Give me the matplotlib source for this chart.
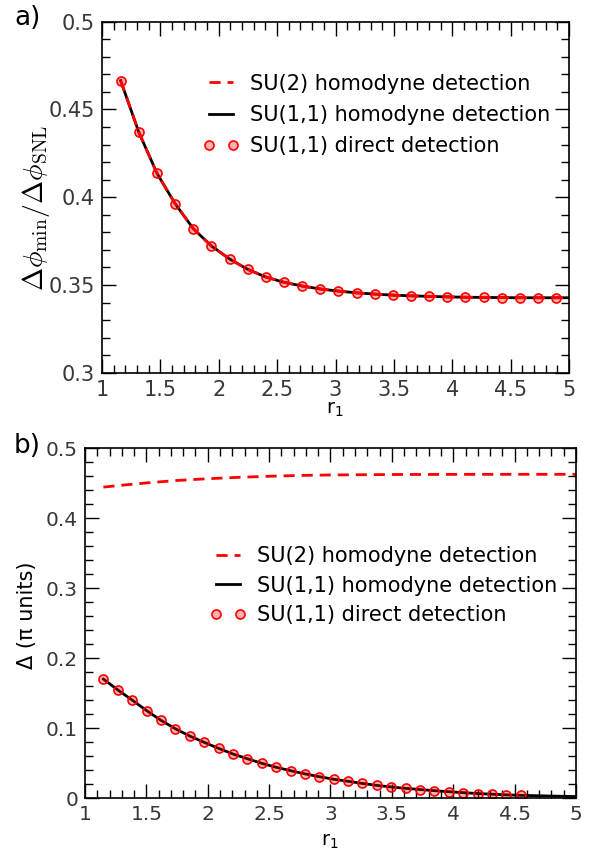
import numpy as np
import matplotlib.pyplot as plt
from matplotlib.ticker import MultipleLocator

plt.rcParams['mathtext.fontset'] = 'cm'
plt.rcParams['font.family'] = 'DejaVu Sans'

# ---- panel a) data ----
r_a = np.linspace(1.16, 4.89, 25)
phi_direct = [0.4664, 0.4370, 0.4136, 0.3963, 0.3821, 0.3722, 0.3648, 0.3589,
              0.3545, 0.3515, 0.3494, 0.3477, 0.3465, 0.3455, 0.3448, 0.3442,
              0.3438, 0.3435, 0.3432, 0.3430, 0.3429, 0.3428, 0.3427, 0.3427,
              0.3427]
r_a_line = np.append(r_a, 5.0)
phi_line = phi_direct + [0.3427]

# ---- panel b) data ----
r_b = np.linspace(1.15, 4.55, 30)
delta_direct = [0.170, 0.1545, 0.140, 0.125, 0.111, 0.099, 0.0886, 0.0796,
                0.0710, 0.0629, 0.0562, 0.0496, 0.0439, 0.0391, 0.0345, 0.0305,
                0.0268, 0.0239, 0.0208, 0.0180, 0.0158, 0.0138, 0.0121, 0.0105,
                0.0090, 0.0076, 0.0064, 0.0054, 0.0045, 0.0038]
r_b_line = np.append(r_b, [4.77, 5.0])
delta_su11 = delta_direct + [0.0029, 0.0021]
r_su2 = [1.15, 1.3, 1.5, 1.75, 2.0, 2.25, 2.5, 2.75, 3.0, 3.5, 4.0, 4.5, 5.0]
delta_su2 = [0.4445, 0.4472, 0.4505, 0.4540, 0.4565, 0.4585, 0.4600, 0.4612,
             0.4619, 0.4625, 0.4627, 0.4628, 0.4628]

labels = ['SU(2) homodyne detection', 'SU(1,1) homodyne detection',
          'SU(1,1) direct detection']

W, H = 595, 852
fig = plt.figure(figsize=(W / 100, H / 100), dpi=100)
ax1 = fig.add_axes([102 / W, 1 - 372.7 / H, 467 / W, 351 / H])
ax2 = fig.add_axes([85 / W, 1 - 798 / H, 491 / W, 349.7 / H])

tick_col = '#383838'


def style(ax, ymaj, ymin, lsize):
    ax.set_xlim(1, 5)
    ax.xaxis.set_major_locator(MultipleLocator(0.5))
    ax.xaxis.set_minor_locator(MultipleLocator(0.1))
    ax.yaxis.set_major_locator(MultipleLocator(ymaj))
    ax.yaxis.set_minor_locator(MultipleLocator(ymin))
    ax.tick_params(which='both', direction='in', top=True, right=True,
                   labelsize=lsize, labelcolor=tick_col, width=1, pad=5)
    ax.tick_params(which='major', length=10)
    ax.tick_params(which='minor', length=6)
    ax.xaxis.set_major_formatter(plt.FuncFormatter(lambda v, p: f'{v:g}'))
    ax.yaxis.set_major_formatter(plt.FuncFormatter(lambda v, p: f'{v:g}'))
    for s in ax.spines.values():
        s.set_linewidth(1.2)


mk = dict(marker='o', ls='none', ms=6.5, mfc=(1, 0, 0, 0.3), mec='red', mew=1.2)

# panel a
l1, = ax1.plot(r_a_line, phi_line, 'k-', lw=2)
l2, = ax1.plot(r_a_line, phi_line, '--', color='red', lw=2, dashes=(4, 2.5))
l3, = ax1.plot(r_a, phi_direct, **mk)
ax1.set_ylim(0.3, 0.5)
style(ax1, 0.05, 0.01, 15)
ax1.set_xlabel(r'r$_\mathregular{1}$', fontsize=14, labelpad=0)
ax1.set_ylabel(r'$\Delta\phi_{\rm min}/\Delta\phi_{\rm SNL}$', fontsize=20)
ax1.yaxis.set_label_coords(-0.107, 0.47)
ax1.legend([l2, l1, l3], labels, loc='upper left', bbox_to_anchor=(0.216, 0.852),
           frameon=False, fontsize=15, handlelength=1.73, numpoints=2,
           borderpad=0, borderaxespad=0, labelspacing=0.54, handletextpad=0.53)

# panel b
m1, = ax2.plot(r_b_line, delta_su11, 'k-', lw=2)
m2, = ax2.plot(r_su2, delta_su2, '--', color='red', lw=2, dashes=(4, 2.5))
m3, = ax2.plot(r_b, delta_direct, **mk)
ax2.set_ylim(0, 0.5)
style(ax2, 0.1, 0.02, 14.5)
ax2.set_xlabel(r'r$_\mathregular{1}$', fontsize=14, labelpad=6)
ax2.set_ylabel('Δ (π units)', fontsize=15)
ax2.yaxis.set_label_coords(-0.098, 0.523)
ax2.legend([m2, m1, m3], labels, loc='upper left', bbox_to_anchor=(0.2546, 0.72),
           frameon=False, fontsize=15, handlelength=1.73, numpoints=2,
           borderpad=0, borderaxespad=0, labelspacing=0.45, handletextpad=0.53)

fig.text(14 / W, 1 - 18 / H, 'a)', fontsize=19, va='center', ha='left')
fig.text(14 / W, 1 - 446 / H, 'b)', fontsize=19, va='center', ha='left')

fig.savefig('out.png', dpi=100)
